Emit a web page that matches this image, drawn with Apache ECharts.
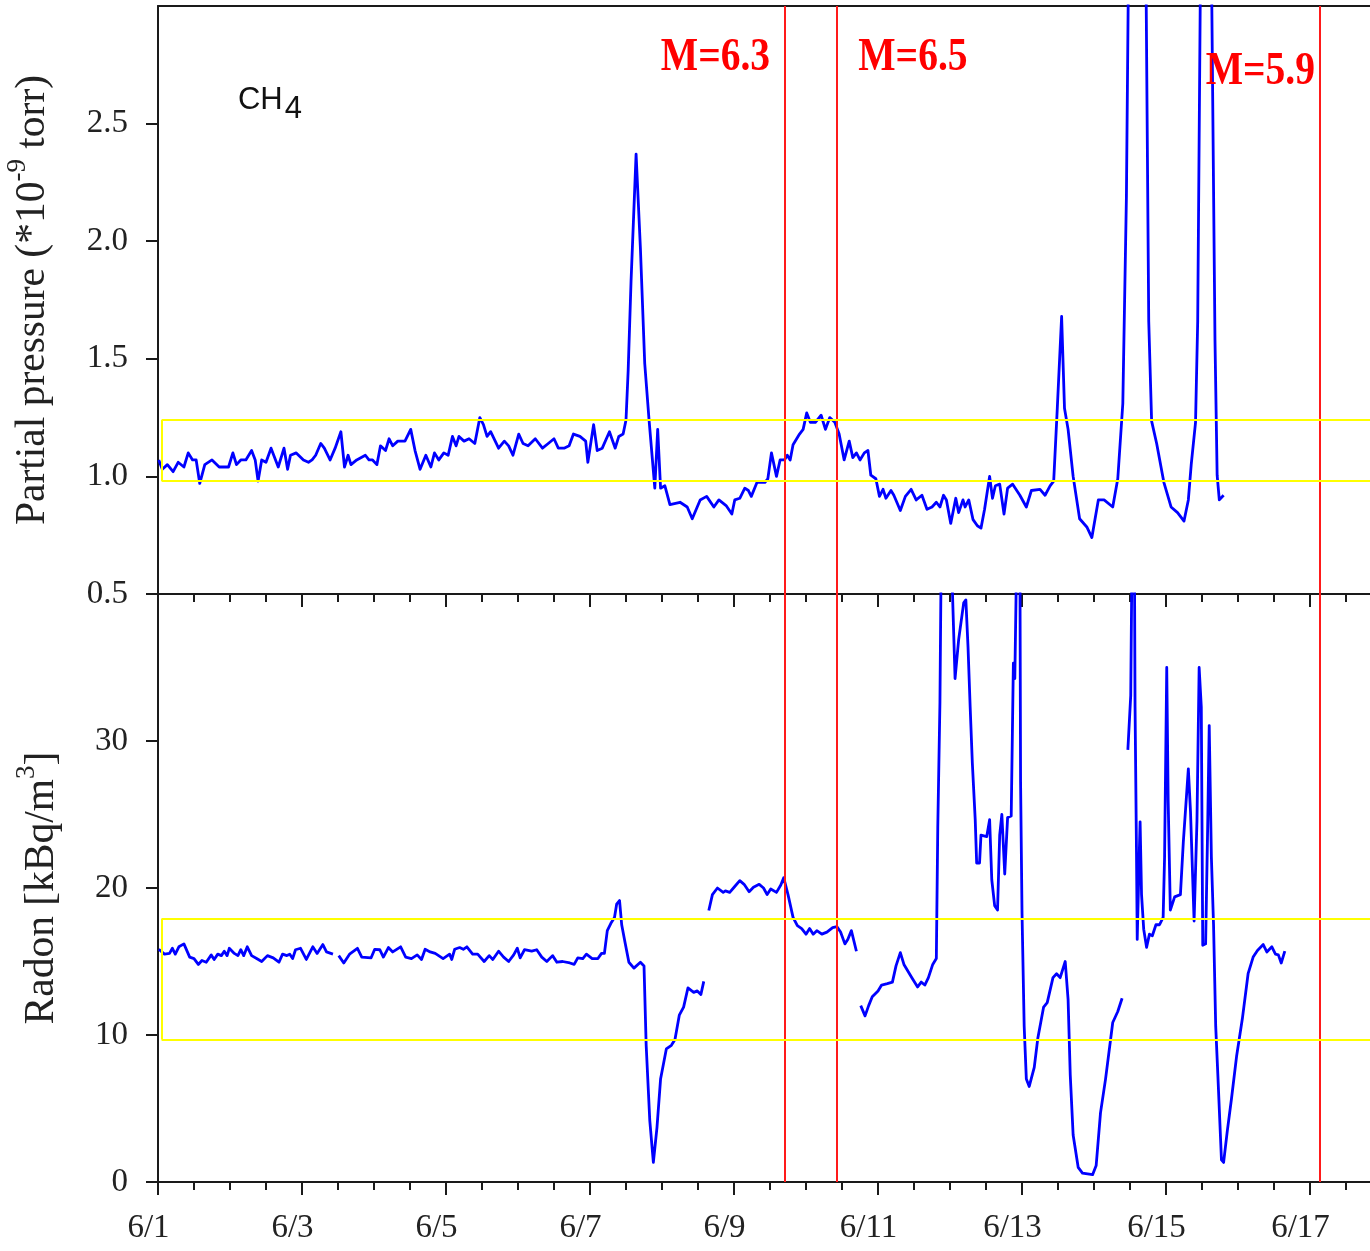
<!DOCTYPE html>
<html>
<head>
<meta charset="utf-8">
<script src="https://cdn.jsdelivr.net/npm/echarts@6/dist/echarts.min.js"></script>
<style>
html,body{margin:0;padding:0;background:#fff;}
#chart{width:1370px;height:1251px;}
</style>
</head>
<body>
<div id="chart"></div>
<script>
// ---- data (x = days since 6/1 00:00) ----
const ch4Days = [0.01,0.06,0.13,0.21,0.28,0.36,0.42,0.48,0.53,0.58,0.65,0.75,0.85,0.98,1.04,1.09,1.15,1.22,1.30,1.35,1.39,1.44,1.50,1.57,1.67,1.75,1.80,1.84,1.92,2.02,2.09,2.14,2.19,2.26,2.31,2.39,2.46,2.54,2.59,2.64,2.68,2.76,2.88,2.93,2.98,3.04,3.09,3.16,3.21,3.26,3.33,3.43,3.51,3.57,3.64,3.72,3.79,3.84,3.90,3.97,4.03,4.09,4.14,4.18,4.25,4.32,4.40,4.47,4.52,4.57,4.62,4.73,4.81,4.87,4.93,5.01,5.07,5.14,5.24,5.34,5.42,5.50,5.56,5.64,5.71,5.77,5.86,5.94,5.97,6.05,6.10,6.17,6.27,6.35,6.40,6.46,6.50,6.53,6.57,6.64,6.70,6.76,6.82,6.90,6.94,6.98,7.04,7.11,7.25,7.35,7.42,
7.53,7.62,7.72,7.79,7.89,7.97,8.01,8.08,8.15,8.20,8.24,8.32,8.43,8.47,8.52,8.59,8.64,8.70,8.74,8.78,8.82,8.91,8.96,9.01,9.06,9.13,9.21,9.27,9.33,9.40,9.46,9.53,9.60,9.65,9.70,9.75,9.81,9.86,9.90,9.97,10.02,10.07,10.11,10.18,10.22,10.31,10.38,10.46,10.53,10.61,10.68,10.75,10.81,10.86,10.91,10.95,11.01,11.08,11.12,11.18,11.21,11.26,11.32,11.38,11.43,11.48,11.55,11.59,11.63,11.69,11.75,11.80,11.87,11.97,12.06,12.13,12.25,12.32,12.39,12.44,12.49,12.55,12.59,12.64,12.71,12.80,12.90,12.97,13.06,13.14,13.26,13.33,13.40,13.45,13.48,13.60,13.72,13.76,13.80,13.87,13.97,14.07,14.16,14.25,14.31,14.35,14.41,14.44,14.48,14.56,14.63,14.68,14.71,14.74,14.80];
const ch4Values = [1.07,1.03,1.05,1.02,1.06,1.04,1.10,1.07,1.07,0.97,1.05,1.07,1.04,1.04,1.10,1.05,1.07,1.07,1.11,1.07,0.98,1.07,1.06,1.12,1.04,1.12,1.03,1.09,1.10,1.07,1.06,1.07,1.09,1.14,1.12,1.07,1.12,1.19,1.04,1.09,1.05,1.07,1.09,1.07,1.07,1.05,1.13,1.11,1.16,1.13,1.15,1.15,1.20,1.11,1.03,1.09,1.04,1.10,1.07,1.10,1.09,1.17,1.13,1.17,1.15,1.16,1.14,1.25,1.22,1.17,1.19,1.12,1.15,1.13,1.09,1.18,1.14,1.13,1.16,1.12,1.14,1.16,1.12,1.12,1.13,1.18,1.17,1.15,1.06,1.22,1.11,1.12,1.19,1.12,1.17,1.18,1.24,1.45,1.83,2.37,1.97,1.48,1.24,0.95,1.20,0.95,0.96,0.88,0.89,0.87,0.82,
0.90,0.915,0.87,0.90,0.876,0.84,0.90,0.907,0.95,0.94,0.915,0.975,0.975,0.99,1.10,1.00,1.07,1.07,1.09,1.07,1.135,1.18,1.20,1.27,1.23,1.23,1.26,1.20,1.25,1.23,1.18,1.07,1.15,1.08,1.10,1.07,1.10,1.11,1.005,0.99,0.915,0.945,0.907,0.94,0.92,0.855,0.915,0.945,0.90,0.92,0.86,0.87,0.89,0.87,0.92,0.90,0.80,0.907,0.846,0.90,0.87,0.90,0.816,0.79,0.78,0.86,1.00,0.907,0.96,0.967,0.84,0.95,0.967,0.92,0.87,0.94,0.945,0.92,0.96,0.98,1.29,1.68,1.29,1.20,1.00,0.82,0.785,0.74,0.90,0.90,0.87,0.99,1.31,2.19,3.2,3.8,3.2,1.66,1.235,1.14,0.975,0.87,0.846,0.81,0.90,1.05,1.23,1.66,3.2,3.8,3.2,1.58,1.005,0.90,0.92];

const radonDays = [0.01,0.09,0.16,0.20,0.24,0.29,0.36,0.44,0.50,0.56,0.61,0.67,0.74,0.78,0.83,0.88,0.92,0.96,0.99,1.06,1.11,1.15,1.19,1.24,1.30,1.37,1.44,1.52,1.60,1.68,1.73,1.79,1.83,1.87,1.91,1.98,2.06,2.15,2.21,2.29,2.34,2.43,2.46,2.51,2.58,2.66,2.77,2.83,2.96,3.01,3.08,3.13,3.20,3.26,3.37,3.44,3.52,3.60,3.66,3.71,3.78,3.85,3.96,4.05,4.08,4.12,4.19,4.24,4.29,4.37,4.44,4.53,4.60,4.65,4.73,4.80,4.87,4.94,4.99,5.03,5.09,5.19,5.26,5.33,5.40,5.48,5.54,5.62,5.72,5.78,5.83,5.90,5.95,6.03,6.11,6.16,6.20,6.24,6.29,6.34,6.37,6.41,6.44,6.49,6.54,6.61,6.70,6.75,6.78,6.83,6.88,6.93,6.98,7.06,7.13,7.18,7.24,7.30,7.36,7.44,7.49,7.54,7.58,7.61,
7.65,7.70,7.77,7.85,7.88,7.94,8.01,8.08,8.14,8.21,8.27,8.35,8.41,8.46,8.51,8.59,8.65,8.69,8.75,8.82,8.88,8.94,9.00,9.05,9.10,9.15,9.22,9.29,9.37,9.43,9.48,9.54,9.58,9.63,9.70,9.73,
9.76,9.82,9.87,9.92,10.00,10.05,10.13,10.20,10.25,10.31,10.36,10.47,10.55,10.60,10.65,10.70,10.76,10.81,10.83,10.86,10.88,11.01,11.07,11.12,11.19,11.22,11.25,11.28,11.31,11.35,11.37,11.41,11.43,11.51,11.55,11.58,11.62,11.66,11.69,11.72,11.76,11.80,11.85,11.88,11.90,11.93,11.97,11.98,12.00,12.03,12.06,12.10,12.17,12.22,12.30,12.35,12.43,12.48,12.53,12.60,12.64,12.67,12.71,12.78,12.84,12.98,13.03,13.09,13.16,13.26,13.33,13.39,13.42,
13.47,13.51,13.53,13.56,13.57,13.59,13.60,13.63,13.64,13.66,13.69,13.73,13.77,13.81,13.86,13.91,13.96,13.98,14.01,14.03,14.06,14.12,14.20,14.24,14.31,14.34,14.39,14.43,14.46,14.49,14.51,14.55,14.58,14.60,14.63,14.66,14.69,14.72,14.77,14.80,14.85,14.91,14.98,15.06,15.14,15.21,15.27,15.35,15.40,15.47,15.52,15.56,15.60,15.65];
const radonValues = [15.83,15.5,15.55,15.9,15.5,16.0,16.2,15.3,15.2,14.8,15.07,14.95,15.45,15.14,15.5,15.4,15.7,15.4,15.9,15.55,15.4,15.8,15.4,16.0,15.4,15.2,15.0,15.4,15.25,14.95,15.5,15.4,15.5,15.2,15.8,15.9,15.14,16.0,15.55,16.15,15.65,15.5,null,15.4,14.9,15.5,15.9,15.3,15.25,15.83,15.8,15.3,15.95,15.65,16.0,15.3,15.2,15.45,15.14,15.83,15.65,15.55,15.2,15.5,15.14,15.83,15.95,15.83,16.0,15.5,15.5,15.0,15.4,15.14,15.7,15.3,15.0,15.45,15.9,15.25,15.8,15.7,15.8,15.3,15.0,15.4,14.95,15.0,14.9,14.8,15.25,15.2,15.5,15.2,15.2,15.55,15.55,17.1,17.6,18.0,18.9,19.15,17.5,16.2,14.95,14.55,14.95,14.7,9.3,4.2,1.33,3.7,7.0,9.05,9.3,9.7,11.35,11.9,13.2,12.9,13.0,12.75,13.65,null,
18.47,19.55,20.0,19.7,19.8,19.7,20.1,20.5,20.25,19.75,20.05,20.25,20.0,19.55,19.93,19.7,20.2,20.7,19.55,18.0,17.44,17.24,16.86,17.24,16.86,17.1,16.86,17.0,17.3,17.37,17.0,16.2,16.5,17.1,15.7,null,
12.0,11.3,12.0,12.6,13.0,13.4,13.5,13.6,14.7,15.6,14.8,13.9,13.27,13.6,13.4,13.9,14.8,15.2,24.1,32.6,44,44,34.25,36.9,39.4,39.6,36.4,32.3,28.5,24.65,21.7,21.7,23.6,23.5,24.65,20.56,18.8,18.5,23.6,25.0,20.95,24.8,24.9,35.3,34.25,44,44,27.2,18.3,10.6,7.0,6.5,7.8,9.8,11.9,12.2,13.9,14.17,13.9,15.0,12.4,7.27,3.2,1.0,0.6,0.5,1.13,4.7,7.0,10.85,11.6,12.5,null,
29.4,33.1,44,44,32.3,22.35,16.5,22.6,24.5,19.55,17.2,15.96,16.86,16.75,17.5,17.5,18.0,22.1,35.0,25.9,18.5,19.4,19.55,23.1,28.1,25.2,17.75,24.6,35.0,32.3,16.1,16.2,24.6,31.05,22.1,17.5,10.6,7.27,1.5,1.33,3.43,5.7,8.55,11.1,14.17,15.3,15.75,16.15,15.65,16.0,15.5,15.45,14.9,15.7];

const quakeDays = [8.71, 9.42, 16.125];
const quakeLabels = ['M=6.3', 'M=6.5', 'M=5.9'];
const quakeLabelValues = [2.78, 2.78, 2.72];   // CH4 axis height of each label

const ch4Band = [0.98, 1.24];
const radonBand = [9.7, 17.9];
const bandStartDay = 0.05;

const xTickDays = [0, 2, 4, 6, 8, 10, 12, 14, 16];
const xTickLabels = ['6/1', '6/3', '6/5', '6/7', '6/9', '6/11', '6/13', '6/15', '6/17'];
const ch4Ticks = [0.5, 1.0, 1.5, 2.0, 2.5];
const radonTicks = [0, 10, 20, 30];
const xMax = 16.833;

// ---- chart ----
const SERIF = '"Liberation Serif","Times New Roman",serif';
const SANS = '"Liberation Sans",Arial,sans-serif';
const AX = '#1a1a1a';
const BLUE = '#0000ff';

function zip(a, b) { return a.map((d, i) => [d, b[i] === null ? '-' : b[i]]); }

const chart = echarts.init(document.getElementById('chart'), null, {renderer: 'canvas'});

function xAxisBase(grid, showLabel) {
  return {
    type: 'value', gridIndex: grid, min: 0, max: xMax, interval: 2,
    axisLine: {show: true, onZero: false, lineStyle: {color: AX, width: 2}},
    axisTick: {show: true, inside: false, length: 13, customValues: xTickDays, lineStyle: {color: AX, width: 2}},
    minorTick: {show: true, splitNumber: 4, length: 8, lineStyle: {color: AX, width: 2}},
    splitLine: {show: false}, minorSplitLine: {show: false},
    axisLabel: {
      show: showLabel, customValues: xTickDays, margin: 30,
      fontFamily: SERIF, fontSize: 33, color: '#222', padding: [0, 19, 0, 0],
      formatter: v => xTickLabels[xTickDays.indexOf(Math.round(v))] || ''
    }
  };
}

// red earthquake lines + yellow reference band (drawn as segments)
function markLines(band) {
  const yel = {color: '#ffff00', width: 2, type: 'solid'};
  const data = quakeDays.map(d => ({xAxis: d}));
  data.push([{coord: [bandStartDay, band[1]], lineStyle: yel}, {coord: [xMax, band[1]]}]);
  data.push([{coord: [bandStartDay, band[0]], lineStyle: yel}, {coord: [xMax, band[0]]}]);
  data.push([{coord: [bandStartDay, band[0]], lineStyle: yel}, {coord: [bandStartDay, band[1]]}]);
  return {
    silent: true, symbol: ['none', 'none'], label: {show: false},
    lineStyle: {color: '#ff1a1a', width: 2, type: 'solid'},
    emphasis: {disabled: true},
    data: data
  };
}

const titleRich = {
  t: {fontFamily: SERIF, fontSize: 41.5, color: '#222', lineHeight: 50, verticalAlign: 'bottom'},
  s: {fontFamily: SERIF, fontSize: 27, color: '#222', lineHeight: 20, verticalAlign: 'top'}
};

const option = {
  animation: false,
  backgroundColor: '#fff',
  grid: [
    {left: 158, right: 0, top: 6, height: 588, containLabel: false, outerBoundsMode: 'none'},
    {left: 158, right: 0, top: 594, height: 588, containLabel: false, outerBoundsMode: 'none'}
  ],
  xAxis: [
    xAxisBase(0, false),
    {type: 'value', gridIndex: 0, position: 'top', min: 0, max: xMax,
     axisLine: {show: true, onZero: false, lineStyle: {color: AX, width: 2}},
     axisTick: {show: false}, axisLabel: {show: false}, splitLine: {show: false}},
    xAxisBase(1, true)
  ],
  yAxis: [
    {
      type: 'value', gridIndex: 0, min: 0.5, max: 3.0, interval: 0.5,
      axisLine: {show: true, lineStyle: {color: AX, width: 2}},
      axisTick: {show: true, length: 12, customValues: ch4Ticks, lineStyle: {color: AX, width: 2}},
      axisLabel: {customValues: ch4Ticks, margin: 30, fontFamily: SERIF, fontSize: 33, color: '#222',
                  formatter: v => v.toFixed(1)},
      splitLine: {show: false},
      name: '{t|Partial pressure (*10}{s|-9}{t| torr)}',
      nameLocation: 'middle', nameRotate: 90, nameGap: 104,
      nameTextStyle: {rich: titleRich}
    },
    {
      type: 'value', gridIndex: 1, min: 0, max: 40, interval: 10,
      axisLine: {show: true, lineStyle: {color: AX, width: 2}},
      axisTick: {show: true, length: 12, customValues: radonTicks, lineStyle: {color: AX, width: 2}},
      axisLabel: {customValues: radonTicks, margin: 30, fontFamily: SERIF, fontSize: 33, color: '#222'},
      splitLine: {show: false},
      name: '{t|Radon [kBq/m}{s|3}{t|]}',
      nameLocation: 'middle', nameRotate: 90, nameGap: 95,
      nameTextStyle: {rich: titleRich}
    }
  ],
  series: [
    {
      name: 'CH4', type: 'line', xAxisIndex: 0, yAxisIndex: 0, clip: true,
      data: zip(ch4Days, ch4Values), showSymbol: false, symbol: 'none',
      lineStyle: {color: BLUE, width: 2.8, join: 'round'}, itemStyle: {color: BLUE},
      markLine: markLines(ch4Band)
    },
    {
      name: 'Radon', type: 'line', xAxisIndex: 2, yAxisIndex: 1, clip: true,
      data: zip(radonDays, radonValues), showSymbol: false, symbol: 'none', connectNulls: false,
      lineStyle: {color: BLUE, width: 2.8, join: 'round'}, itemStyle: {color: BLUE},
      markLine: markLines(radonBand)
    }
  ]
};
chart.setOption(option);

// text annotations placed through the axes' own scales
const labelOffsets = [-15, 22, -4];
const labelAligns = ['right', 'left', 'right'];
const graphics = quakeLabels.map((t, i) => {
  const p = chart.convertToPixel({xAxisIndex: 0, yAxisIndex: 0}, [quakeDays[i], quakeLabelValues[i]]);
  return {
    type: 'text', x: p[0] + labelOffsets[i], y: p[1], scaleX: 0.86, z: 100,
    style: {text: t, fill: '#ff0000', font: 'bold 46px ' + SERIF, align: labelAligns[i], verticalAlign: 'middle'}
  };
});
const cp = chart.convertToPixel({xAxisIndex: 0, yAxisIndex: 0}, [1.11, 2.6]);
graphics.push({
  type: 'text', x: cp[0], y: cp[1], z: 100,
  style: {
    text: '{a|CH}{b|4}', align: 'left', verticalAlign: 'middle',
    rich: {
      a: {fontFamily: SANS, fontSize: 31, fill: '#111', lineHeight: 30, verticalAlign: 'top'},
      b: {fontFamily: SANS, fontSize: 31, fill: '#111', lineHeight: 30, verticalAlign: 'top', padding: [9, 0, 0, 2]}
    }
  }
});
chart.setOption({graphic: graphics});
</script>
</body>
</html>
